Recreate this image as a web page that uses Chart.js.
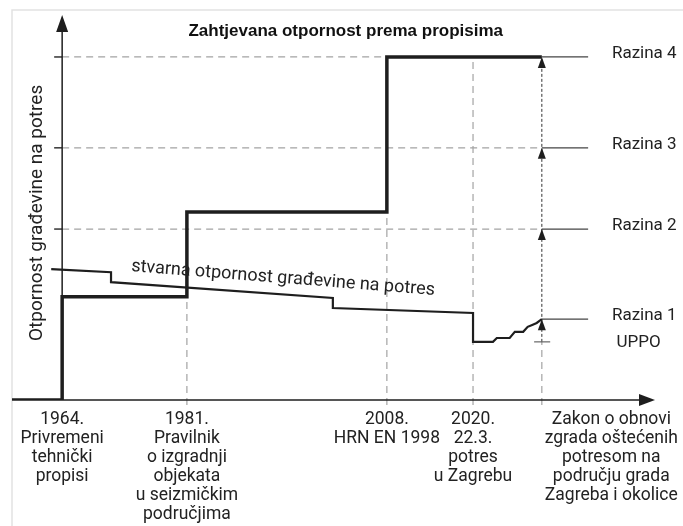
<!DOCTYPE html>
<html>
<head>
<meta charset="utf-8">
<script src="https://cdn.jsdelivr.net/npm/chart.js@4.4.1/dist/chart.umd.min.js"></script>
<style>
  html, body { margin: 0; padding: 0; background: #fff; }
  #wrap { width: 683px; height: 526px; position: relative; }
</style>
</head>
<body>
<div id="wrap"><canvas id="resChart"></canvas></div>
<script>
// positions on the (schematic) timeline, 0..100
var eventX = [7.8, 27.2, 58.3, 71.7, 82.4];
var eventLabelX = [7.8, 27.2, 58.3, 71.7, 93.2];
var eventGuideTop = [0, 26.8, 48.8, 89.1, 89.1];
var eventLabels = [
    ['1964.', 'Privremeni', 'tehnički', 'propisi'],
    ['1981.', 'Pravilnik', 'o izgradnji', 'objekata', 'u seizmičkim', 'područjima'],
    ['2008.', 'HRN EN 1998'],
    ['2020.', '22.3.', 'potres', 'u Zagrebu'],
    ['Zakon o obnovi', 'zgrada oštećenih', 'potresom na', 'području grada', 'Zagreba i okolice']
];

// resistance levels (schematic), 0..100
var levelNames = ['Razina 1', 'Razina 2', 'Razina 3', 'Razina 4'];
var levelValues = [21.0, 44.4, 65.5, 89.1];
var levelDashEnd = [null, 82.4, 82.4, 58.3];
var uppoValue = 15.1;

// required resistance by regulation (step line)
var requiredX = [0, 7.8, 7.8, 27.2, 27.2, 58.3, 58.3, 82.4];
var requiredY = [0, 0, 26.8, 26.8, 48.8, 48.8, 89.1, 89.1];

// actual resistance of buildings
var actualX = [6.1, 15.4, 15.4, 49.9, 49.9, 71.7, 71.7, 74.8, 75.4, 77.4, 78.2, 79.5, 80.2, 80.9, 81.6, 82.4];
var actualY = [34.0, 33.2, 30.6, 26.5, 23.9, 22.6, 15.1, 15.1, 16.1, 16.1, 17.7, 17.7, 19.0, 19.5, 20.0, 21.0];

var chartTitle = 'Zahtjevana otpornost prema propisima';
var yTitle = 'Otpornost građevine na potres';
var actualTitle = 'stvarna otpornost građevine na potres';

function toPoints(xs, ys) {
    return xs.map(function (x, i) { return { x: x, y: ys[i] }; });
}

var FONT = 'Roboto, "Noto Sans", sans-serif';
var GRID = '#a3a3a3';
var INK = '#1e1e1e';

function line(ctx, x1, y1, x2, y2, color, width, dash) {
    ctx.save();
    ctx.strokeStyle = color;
    ctx.lineWidth = width;
    ctx.setLineDash(dash || []);
    ctx.beginPath();
    ctx.moveTo(x1, y1);
    ctx.lineTo(x2, y2);
    ctx.stroke();
    ctx.restore();
}

function arrowUp(ctx, x, tipY, w, h) {
    ctx.beginPath();
    ctx.moveTo(x, tipY);
    ctx.lineTo(x - w, tipY + h);
    ctx.lineTo(x + w, tipY + h);
    ctx.closePath();
    ctx.fill();
}

var schemePlugin = {
    id: 'scheme',
    beforeDatasetsDraw: function (chart) {
        var ctx = chart.ctx, xs = chart.scales.x, ys = chart.scales.y, a = chart.chartArea;
        var x0 = xs.getPixelForValue(eventX[0]);
        var base = ys.getPixelForValue(0);

        // frame
        ctx.save();
        ctx.strokeStyle = '#e2e2e2';
        ctx.lineWidth = 1.5;
        ctx.strokeRect(a.left, a.top - 5, chart.width + 20, chart.height + 20);
        ctx.restore();

        // horizontal dashed level lines
        levelValues.forEach(function (v, i) {
            var py = ys.getPixelForValue(v);
            if (levelDashEnd[i] !== null) {
                line(ctx, x0 - 8, py, x0, py, '#333', 1.5);
                line(ctx, x0, py, xs.getPixelForValue(levelDashEnd[i]), py, GRID, 1.2, [7, 5]);
            }
            line(ctx, xs.getPixelForValue(eventX[4]), py, xs.getPixelForValue(89.6), py, '#444', 1.3);
        });

        // vertical guide lines at events
        for (var i = 1; i < eventX.length; i++) {
            var px = xs.getPixelForValue(eventX[i]);
            if (i < 4) {
                line(ctx, px, base + 5, px, ys.getPixelForValue(eventGuideTop[i]), GRID, 1.2, [7, 5]);
            } else {
                line(ctx, px, base + 5, px, ys.getPixelForValue(uppoValue), GRID, 1.2, [7, 5]);
                line(ctx, px, ys.getPixelForValue(uppoValue), px, ys.getPixelForValue(eventGuideTop[i]), '#333', 1, [3, 2]);
            }
        }
        // UPPO tick
        var up = ys.getPixelForValue(uppoValue);
        line(ctx, xs.getPixelForValue(81.2), up, xs.getPixelForValue(83.7), up, '#666', 1.2);

        // axes
        line(ctx, a.left, base, a.right - 12, base, INK, 1.5);
        line(ctx, x0, base, x0, a.top + 12, INK, 1.5);
    },
    afterDatasetsDraw: function (chart) {
        var ctx = chart.ctx, xs = chart.scales.x, ys = chart.scales.y, a = chart.chartArea;
        var x0 = xs.getPixelForValue(eventX[0]);
        var base = ys.getPixelForValue(0);
        ctx.save();
        ctx.fillStyle = INK;

        // axis arrows
        arrowUp(ctx, x0, a.top, 6, 17);
        ctx.beginPath();
        ctx.moveTo(a.right, base);
        ctx.lineTo(a.right - 16, base - 6);
        ctx.lineTo(a.right - 16, base + 6);
        ctx.closePath();
        ctx.fill();

        // level arrows on the Zakon line
        var zx = xs.getPixelForValue(eventX[4]);
        levelValues.forEach(function (v) {
            arrowUp(ctx, zx, ys.getPixelForValue(v), 4, 11);
        });

        // title
        ctx.font = 'bold 17px "Liberation Sans", Arial, sans-serif';
        ctx.textAlign = 'center';
        ctx.textBaseline = 'middle';
        ctx.fillStyle = '#111';
        ctx.fillText(chartTitle, xs.getPixelForValue(51.9), a.top + 16);

        // level labels
        ctx.font = '17px ' + FONT;
        ctx.textAlign = 'left';
        ctx.fillStyle = '#222';
        levelNames.forEach(function (n, i) {
            ctx.fillText(n, xs.getPixelForValue(93.3), ys.getPixelForValue(levelValues[i]) - 3);
        });
        ctx.fillText('UPPO', xs.getPixelForValue(94.0), ys.getPixelForValue(uppoValue) + 1);

        // event labels under the axis
        ctx.font = '17.5px ' + FONT;
        ctx.textAlign = 'center';
        eventLabels.forEach(function (lines, i) {
            var px = xs.getPixelForValue(eventLabelX[i]);
            lines.forEach(function (t, j) {
                ctx.fillText(t, px, base + 20 + j * 19);
            });
        });

        // y axis title
        ctx.save();
        ctx.translate(x0 - 25, ys.getPixelForValue(48.6));
        ctx.rotate(-Math.PI / 2);
        ctx.font = '19px ' + FONT;
        ctx.fillText(yTitle, 0, 0);
        ctx.restore();

        // label of the actual resistance line
        ctx.save();
        ctx.translate(xs.getPixelForValue(18.5), ys.getPixelForValue(33.5));
        ctx.rotate(4.5 * Math.PI / 180);
        ctx.font = '18px ' + FONT;
        ctx.textAlign = 'left';
        ctx.textBaseline = 'alphabetic';
        ctx.fillText(actualTitle, 0, 0);
        ctx.restore();

        ctx.restore();
    }
};

var ctx = document.getElementById('resChart').getContext('2d');
new Chart(ctx, {
    type: 'scatter',
    data: {
        datasets: [{
            label: 'Zahtjevana otpornost',
            data: toPoints(requiredX, requiredY),
            showLine: true,
            borderColor: INK,
            borderWidth: 3.5,
            pointRadius: 0,
            borderJoinStyle: 'miter',
            borderCapStyle: 'butt'
        }, {
            label: 'Stvarna otpornost',
            data: toPoints(actualX, actualY),
            showLine: true,
            borderColor: INK,
            borderWidth: 2.2,
            pointRadius: 0,
            borderJoinStyle: 'miter'
        }]
    },
    options: {
        responsive: true,
        maintainAspectRatio: false,
        animation: false,
        layout: {
            padding: { left: 12, right: 28, top: 15, bottom: 126 }
        },
        scales: {
            x: { type: 'linear', min: 0, max: 100, display: false },
            y: { type: 'linear', min: 0, max: 100, display: false }
        },
        plugins: {
            legend: { display: false },
            tooltip: { enabled: false }
        }
    },
    plugins: [schemePlugin]
});
</script>
</body>
</html>
